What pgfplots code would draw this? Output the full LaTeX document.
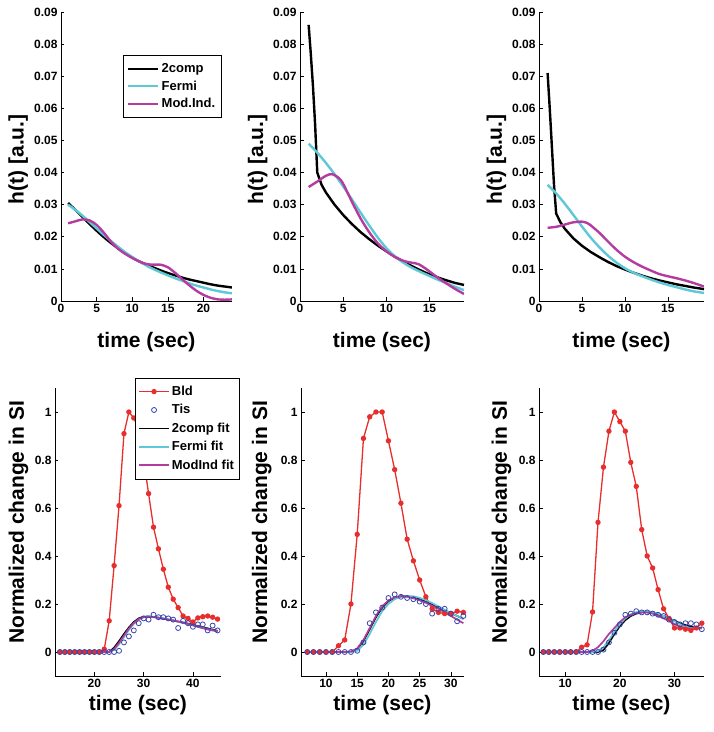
\documentclass[border=0pt]{standalone}
\usepackage{fontspec}
\setmainfont{Liberation Sans}
\usepackage{pgfplots}
\pgfplotsset{compat=1.18}
\definecolor{cfermi}{RGB}{95,200,215}
\definecolor{cmod}{RGB}{180,60,160}
\definecolor{cbld}{RGB}{232,45,45}
\definecolor{ctis}{RGB}{55,70,170}
\pgfplotsset{
  legend image code/.code={\draw[mark repeat=2,mark phase=2,#1] plot coordinates {(0pt,0pt) (15pt,0pt) (30pt,0pt)};},
}
\pgfplotsset{
  base/.style={scale only axis, axis x line*=bottom, axis y line*=left,
    tick align=inside, major tick length=3.5pt,
    axis line style={line width=0.8pt, black}, tick style={line width=0.6pt, black},
    ticklabel style={font=\fontsize{12}{13}\selectfont\bfseries},
    /pgf/number format/assume math mode=true, scaled ticks=false,
    label style={font=\fontsize{21}{24}\selectfont\bfseries},
    xlabel={time (sec)}},
  toprow/.style={base, height=289pt, ymin=0, ymax=0.09,
    ytick={0,0.01,0.02,0.03,0.04,0.05,0.06,0.07,0.08,0.09},
    yticklabels={0,0.01,0.02,0.03,0.04,0.05,0.06,0.07,0.08,0.09},
    ylabel={h(t) [a.u.]},
    xlabel style={at={(axis description cs:0.5,0)}, anchor=center, yshift=-41pt},
    every axis plot/.append style={line width=2.4pt, line join=round}},
  botrow/.style={base, height=288pt, ymin=-0.1, ymax=1.1,
    ytick={0,0.2,0.4,0.6,0.8,1}, yticklabels={0,0.2,0.4,0.6,0.8,1},
    ylabel={Normalized change in SI},
    xlabel style={at={(axis description cs:0.5,0)}, anchor=center, yshift=-29pt}},
  bld/.style={color=cbld, line width=1.3pt, mark=*, mark size=2pt},
  tis/.style={color=ctis, only marks, mark=o, mark size=2.5pt, line width=0.8pt},
  fit/.style={line width=1.7pt, line join=round},
}
\begin{document}
\begin{tikzpicture}
\path[use as bounding box] (0,0) rectangle (714pt,732pt);
% ---------- Top left
\begin{axis}[toprow, at={(61pt,431pt)}, anchor=south west, width=171pt,
  xmin=0, xmax=24, xtick={0,5,10,15,20}, xticklabels={0,5,10,15,20},
  ylabel style={at={(axis description cs:-0.25,0.49)}, anchor=center},
  legend style={at={(axis description cs:0.363,0.851)}, anchor=north west, draw=black, fill=white,
    font=\fontsize{13}{15}\selectfont\bfseries, inner xsep=4pt, inner ysep=6.5pt, row sep=2.5pt, cells={anchor=west}}]
\addplot[black, smooth] coordinates {(1,0.0305)(2,0.0284)(3,0.0262)(4,0.0240)(5,0.0219)(6,0.0199)(7,0.0181)(8,0.0164)(9,0.0149)(10,0.0135)(11,0.0123)(12,0.0113)(13,0.0104)(14,0.0095)(15,0.0087)(16,0.0080)(17,0.0073)(18,0.0067)(19,0.0062)(20,0.0057)(21,0.0052)(22,0.0048)(23,0.0045)(24,0.0042)};
\addlegendentry{2comp}
\addplot[cfermi, smooth] coordinates {(1,0.0300)(2,0.0284)(3,0.0266)(4,0.0246)(5,0.0226)(6,0.0206)(7,0.0187)(8,0.0169)(9,0.0152)(10,0.0137)(11,0.0123)(12,0.0110)(13,0.0099)(14,0.0089)(15,0.0080)(16,0.0071)(17,0.0063)(18,0.0055)(19,0.0048)(20,0.0042)(21,0.0036)(22,0.0031)(23,0.0027)(24,0.0024)};
\addlegendentry{Fermi}
\addplot[cmod, smooth] coordinates {(1,0.0242)(2,0.0248)(3,0.0254)(4,0.0251)(5,0.0237)(6,0.0213)(7,0.0185)(8,0.0163)(9,0.0147)(10,0.0134)(11,0.0123)(12,0.0115)(13,0.0113)(14,0.0113)(15,0.0105)(16,0.0088)(17,0.0068)(18,0.0049)(19,0.0032)(20,0.0019)(21,0.0010)(22,0.0005)(23,0.0004)(24,0.0005)};
\addlegendentry{Mod.Ind.}
\end{axis}
% ---------- Top middle
\begin{axis}[toprow, at={(300pt,431pt)}, anchor=south west, width=164pt,
  xmin=0, xmax=19, xtick={0,5,10,15}, xticklabels={0,5,10,15},
  ylabel style={at={(axis description cs:-0.258,0.49)}, anchor=center}]
\addplot[black] coordinates {(1,0.086)(1.25,0.077)(1.5,0.067)(1.75,0.055)(2,0.040)(2.5,0.0362)(3,0.0338)(4,0.0300)(5,0.0268)(6,0.0240)(7,0.0215)(8,0.0193)(9,0.0173)(10,0.0155)(11,0.0138)(12,0.0122)(13,0.0108)(14,0.0095)(15,0.0083)(16,0.0073)(17,0.0064)(18,0.0056)(19,0.0050)};
\addplot[cfermi, smooth] coordinates {(1,0.0490)(2,0.0462)(3,0.0430)(4,0.0395)(5,0.0357)(6,0.0317)(7,0.0276)(8,0.0236)(9,0.0198)(10,0.0165)(11,0.0139)(12,0.0119)(13,0.0103)(14,0.0090)(15,0.0078)(16,0.0066)(17,0.0055)(18,0.0044)(19,0.0034)};
\addplot[cmod, smooth] coordinates {(1,0.0355)(2,0.0372)(3,0.0390)(3.7,0.0395)(4.5,0.0383)(5,0.0365)(6,0.0310)(7,0.0258)(8,0.0215)(9,0.0180)(10,0.0155)(11,0.0137)(12,0.0125)(13,0.0119)(13.7,0.0115)(14.5,0.0102)(15,0.0092)(16,0.0072)(17,0.0054)(18,0.0037)(19,0.0022)};
\end{axis}
% ---------- Top right
\begin{axis}[toprow, at={(539pt,431pt)}, anchor=south west, width=165pt,
  xmin=0, xmax=19.2, xtick={0,5,10,15}, xticklabels={0,5,10,15},
  ylabel style={at={(axis description cs:-0.258,0.49)}, anchor=center}]
\addplot[black] coordinates {(1,0.071)(1.25,0.060)(1.5,0.048)(1.75,0.036)(2,0.0272)(2.5,0.0245)(3,0.0225)(4,0.0195)(5,0.0172)(6,0.0153)(7,0.0137)(8,0.0122)(9,0.0109)(10,0.0098)(11,0.0088)(12,0.0079)(13,0.0071)(14,0.0064)(15,0.0058)(16,0.0052)(17,0.0047)(18,0.0042)(19.2,0.0037)};
\addplot[cfermi, smooth] coordinates {(1,0.0362)(2,0.0335)(3,0.0303)(4,0.0268)(5,0.0232)(6,0.0198)(7,0.0168)(8,0.0142)(9,0.0120)(10,0.0102)(11,0.0088)(12,0.0077)(13,0.0067)(14,0.0058)(15,0.0050)(16,0.0043)(17,0.0036)(18,0.0030)(19.2,0.0025)};
\addplot[cmod, smooth] coordinates {(1,0.0228)(2,0.0231)(3,0.0238)(4,0.0245)(5,0.0247)(5.6,0.0243)(6,0.0236)(7,0.0213)(8,0.0186)(9,0.0160)(10,0.0138)(11,0.0121)(12,0.0107)(13,0.0095)(14,0.0084)(15,0.0077)(16,0.0071)(17,0.0064)(18,0.0056)(19.2,0.0045)};
\end{axis}
% ---------- Bottom left
\begin{axis}[botrow, at={(55pt,56pt)}, anchor=south west, width=166pt,
  xmin=12, xmax=45.7, xtick={20,30,40}, xticklabels={20,30,40},
  ylabel style={at={(axis description cs:-0.22,0.533)}, anchor=center},
  legend style={at={(axis description cs:0.482,1.035)}, anchor=north west, draw=black, fill=white,
    font=\fontsize{13}{15}\selectfont\bfseries, inner xsep=3pt, inner ysep=6pt, row sep=3.5pt, cells={anchor=west}}]
\addplot[bld] coordinates {(13,0)(14,0)(15,0)(16,0)(17,0)(18,0)(19,0)(20,0)(21,0)(22,0.012)(23,0.13)(24,0.36)(25,0.61)(26,0.91)(27,1.0)(28,0.975)(29,0.93)(30,0.80)(31,0.66)(32,0.52)(33,0.43)(34,0.345)(35,0.27)(36,0.22)(37,0.185)(38,0.15)(39,0.14)(40,0.125)(41,0.142)(42,0.147)(43,0.15)(44,0.145)(45,0.137)};
\addlegendentry{Bld}
\addplot[tis] coordinates {(13,0)(14,0)(15,0)(16,0)(17,0)(18,0)(19,0)(20,0)(21,0)(22,0)(23,0)(24,0)(25,0.005)(26,0.04)(27,0.065)(28,0.09)(29,0.12)(30,0.14)(31,0.135)(32,0.155)(33,0.145)(34,0.145)(35,0.14)(36,0.135)(37,0.10)(38,0.13)(39,0.12)(40,0.105)(41,0.115)(42,0.115)(43,0.09)(44,0.11)(45,0.09)};
\addlegendentry{Tis}
\addplot[fit, black] coordinates {(13,0)(23,0)(24,0.018)(25,0.045)(26,0.075)(27,0.102)(28,0.125)(29,0.140)(30,0.147)(31,0.148)(32,0.146)(33,0.143)(34,0.139)(35,0.135)(36,0.131)(37,0.127)(38,0.123)(39,0.118)(40,0.113)(41,0.108)(42,0.103)(43,0.098)(44,0.093)(45,0.088)};
\addlegendentry{2comp fit}
\addplot[fit, cfermi] coordinates {(13,0)(23,0)(24,0.008)(25,0.032)(26,0.062)(27,0.092)(28,0.117)(29,0.135)(30,0.145)(31,0.148)(32,0.147)(33,0.144)(34,0.140)(35,0.136)(36,0.131)(37,0.126)(38,0.121)(39,0.116)(40,0.111)(41,0.106)(42,0.100)(43,0.095)(44,0.090)(45,0.085)};
\addlegendentry{Fermi fit}
\addplot[fit, cmod] coordinates {(13,0)(23,0)(24,0.012)(25,0.038)(26,0.068)(27,0.097)(28,0.121)(29,0.137)(30,0.145)(31,0.147)(32,0.145)(33,0.142)(34,0.139)(35,0.135)(36,0.131)(37,0.127)(38,0.122)(39,0.117)(40,0.111)(41,0.105)(42,0.099)(43,0.094)(44,0.090)(45,0.087)};
\addlegendentry{ModInd fit}
\end{axis}
% ---------- Bottom middle
\begin{axis}[botrow, at={(301pt,56pt)}, anchor=south west, width=163pt,
  xmin=6, xmax=32.1, xtick={10,15,20,25,30}, xticklabels={10,15,20,25,30},
  ylabel style={at={(axis description cs:-0.241,0.533)}, anchor=center}]
\addplot[bld] coordinates {(7,0)(8,0)(9,0)(10,0)(11,0)(12,0.026)(13,0.05)(14,0.20)(15,0.49)(16,0.89)(17,0.98)(18,1.0)(19,1.0)(20,0.88)(21,0.76)(22,0.62)(23,0.47)(24,0.38)(25,0.30)(26,0.23)(27,0.18)(28,0.165)(29,0.16)(30,0.16)(31,0.17)(32,0.165)};
\addplot[tis] coordinates {(7,0)(8,0)(9,0)(10,0)(11,0)(12,0)(13,0)(14,0)(15,0.005)(16,0.04)(17,0.12)(18,0.165)(19,0.185)(20,0.225)(21,0.24)(22,0.23)(23,0.225)(24,0.22)(25,0.21)(26,0.20)(27,0.16)(28,0.18)(29,0.18)(30,0.16)(31,0.128)(32,0.15)};
\addplot[fit, black] coordinates {(7,0)(14,0)(15,0.012)(16,0.045)(17,0.095)(18,0.145)(19,0.185)(20,0.212)(21,0.226)(22,0.232)(23,0.232)(24,0.228)(25,0.220)(26,0.210)(27,0.198)(28,0.186)(29,0.174)(30,0.162)(31,0.150)(32,0.138)};
\addplot[fit, cfermi] coordinates {(7,0)(14,0)(15,0.005)(16,0.03)(17,0.075)(18,0.125)(19,0.17)(20,0.20)(21,0.22)(22,0.23)(23,0.233)(24,0.232)(25,0.226)(26,0.216)(27,0.204)(28,0.19)(29,0.176)(30,0.163)(31,0.15)(32,0.138)};
\addplot[fit, cmod] coordinates {(7,0)(13,0)(14,0.002)(15,0.015)(16,0.05)(17,0.10)(18,0.15)(19,0.19)(20,0.215)(21,0.228)(22,0.232)(23,0.23)(24,0.224)(25,0.215)(26,0.205)(27,0.193)(28,0.18)(29,0.165)(30,0.15)(31,0.135)(32,0.12)};
\end{axis}
% ---------- Bottom right
\begin{axis}[botrow, at={(539pt,56pt)}, anchor=south west, width=165pt,
  xmin=5.2, xmax=35.4, xtick={10,20,30}, xticklabels={10,20,30},
  ylabel style={at={(axis description cs:-0.228,0.533)}, anchor=center}]
\addplot[bld] coordinates {(6,0)(7,0)(8,0)(9,0)(10,0)(11,0)(12,0)(13,0.02)(14,0.03)(15,0.167)(16,0.54)(17,0.77)(18,0.92)(19,1.0)(20,0.96)(21,0.92)(22,0.79)(23,0.69)(24,0.51)(25,0.40)(26,0.35)(27,0.26)(28,0.18)(29,0.14)(30,0.10)(31,0.10)(32,0.095)(33,0.09)(34,0.10)(35,0.12)};
\addplot[tis] coordinates {(6,0)(7,0)(8,0)(9,0)(10,0)(11,0)(12,0)(13,0)(14,0)(15,0)(16,0)(17,0.01)(18,0.04)(19,0.08)(20,0.115)(21,0.155)(22,0.16)(23,0.17)(24,0.165)(25,0.165)(26,0.16)(27,0.155)(28,0.15)(29,0.135)(30,0.125)(31,0.115)(32,0.12)(33,0.12)(34,0.115)(35,0.095)};
\addplot[fit, black] coordinates {(6,0)(16,0)(17,0.008)(18,0.038)(19,0.075)(20,0.108)(21,0.133)(22,0.15)(23,0.16)(24,0.165)(25,0.165)(26,0.162)(27,0.157)(28,0.15)(29,0.14)(30,0.13)(31,0.12)(32,0.112)(33,0.105)(34,0.101)(35,0.10)};
\addplot[fit, cfermi] coordinates {(6,0)(15,0)(16,0.004)(17,0.02)(18,0.05)(19,0.085)(20,0.116)(21,0.14)(22,0.157)(23,0.166)(24,0.17)(25,0.17)(26,0.166)(27,0.16)(28,0.15)(29,0.14)(30,0.128)(31,0.116)(32,0.106)(33,0.10)(34,0.098)(35,0.098)};
\addplot[fit, cmod] coordinates {(6,0)(14,0)(15,0.005)(16,0.02)(17,0.045)(18,0.075)(19,0.10)(20,0.125)(21,0.145)(22,0.155)(23,0.162)(24,0.165)(25,0.165)(26,0.16)(27,0.15)(28,0.14)(29,0.13)(30,0.116)(31,0.106)(32,0.10)(33,0.098)(34,0.10)(35,0.10)};
\end{axis}
\end{tikzpicture}
\end{document}
